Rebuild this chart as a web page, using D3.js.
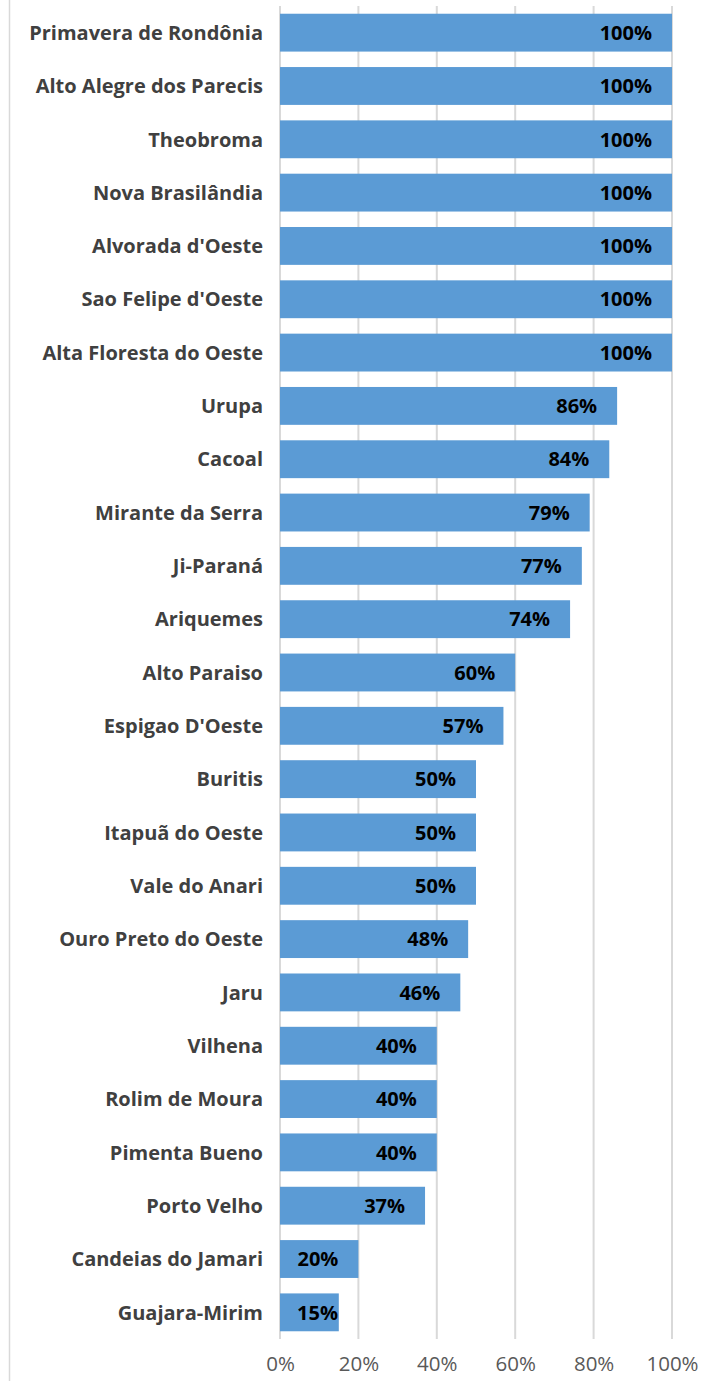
<!DOCTYPE html>
<html>
<head>
<meta charset="utf-8">
<script src="https://cdn.jsdelivr.net/npm/d3@7"></script>
<style>
  body { margin: 0; background: #fff; }
  #chart { width: 701px; height: 1381px; }
</style>
</head>
<body>
<div id="chart"></div>
<script>
const categories = [
  "Primavera de Rondônia", "Alto Alegre dos Parecis", "Theobroma", "Nova Brasilândia",
  "Alvorada d'Oeste", "Sao Felipe d'Oeste", "Alta Floresta do Oeste", "Urupa", "Cacoal",
  "Mirante da Serra", "Ji-Paraná", "Ariquemes", "Alto Paraiso", "Espigao D'Oeste",
  "Buritis", "Itapuã do Oeste", "Vale do Anari", "Ouro Preto do Oeste", "Jaru",
  "Vilhena", "Rolim de Moura", "Pimenta Bueno", "Porto Velho", "Candeias do Jamari",
  "Guajara-Mirim"
];
const values = [100, 100, 100, 100, 100, 100, 100, 86, 84, 79, 77, 74, 60, 57, 50, 50, 50, 48, 46, 40, 40, 40, 37, 20, 15];
const tickValues = [0, 20, 40, 60, 80, 100];

const width = 701, height = 1381;
const font = "'Open Sans', Lato, sans-serif";

const svg = d3.select("#chart")
  .append("svg")
  .attr("width", width)
  .attr("height", height);

// frame line on the left
svg.append("line")
  .attr("x1", 9.5).attr("x2", 9.5)
  .attr("y1", 0).attr("y2", height)
  .attr("stroke", "#d9d9d9")
  .attr("stroke-width", 1.5);

const x = d3.scaleLinear()
  .domain([0, 100])
  .range([280, 672]);

const y = d3.scaleBand()
  .domain(categories)
  .range([6, 1339])
  .paddingInner(0.29)
  .paddingOuter(0.145);

// gridlines
svg.append("g")
  .selectAll("line")
  .data(tickValues)
  .enter()
  .append("line")
  .attr("x1", d => x(d)).attr("x2", d => x(d))
  .attr("y1", 6).attr("y2", 1339)
  .attr("stroke", "#d9d9d9")
  .attr("stroke-width", 2);

// bars
svg.append("g")
  .selectAll("rect")
  .data(values)
  .enter()
  .append("rect")
  .attr("x", x(0))
  .attr("y", (d, i) => y(categories[i]))
  .attr("width", d => x(d) - x(0))
  .attr("height", y.bandwidth())
  .attr("fill", "#5b9bd5");

// value labels (inside end, but never pushed past the bar start)
svg.append("g")
  .selectAll("text")
  .data(values)
  .enter()
  .append("text")
  .attr("x", d => Math.max(x(d) - 20, x(0) + 58))
  .attr("y", (d, i) => y(categories[i]) + y.bandwidth() / 2)
  .attr("dy", "0.36em")
  .attr("text-anchor", "end")
  .attr("font-family", font)
  .attr("font-size", "20px")
  .attr("font-weight", "bold")
  .attr("fill", "#000")
  .text(d => d + "%");

// category labels
svg.append("g")
  .selectAll("text")
  .data(categories)
  .enter()
  .append("text")
  .attr("x", 263)
  .attr("y", d => y(d) + y.bandwidth() / 2)
  .attr("dy", "0.36em")
  .attr("text-anchor", "end")
  .attr("font-family", font)
  .attr("font-size", "20px")
  .attr("font-weight", "bold")
  .attr("fill", "#404040")
  .text(d => d);

// x axis
const xAxis = svg.append("g")
  .attr("transform", "translate(0,1339)")
  .call(d3.axisBottom(x).tickValues(tickValues).tickFormat(d => d + "%").tickSize(0).tickPadding(17));
xAxis.select(".domain").remove();
xAxis.selectAll("text")
  .attr("font-family", font)
  .attr("font-size", "20.5px")
  .attr("fill", "#595959");
</script>
</body>
</html>
